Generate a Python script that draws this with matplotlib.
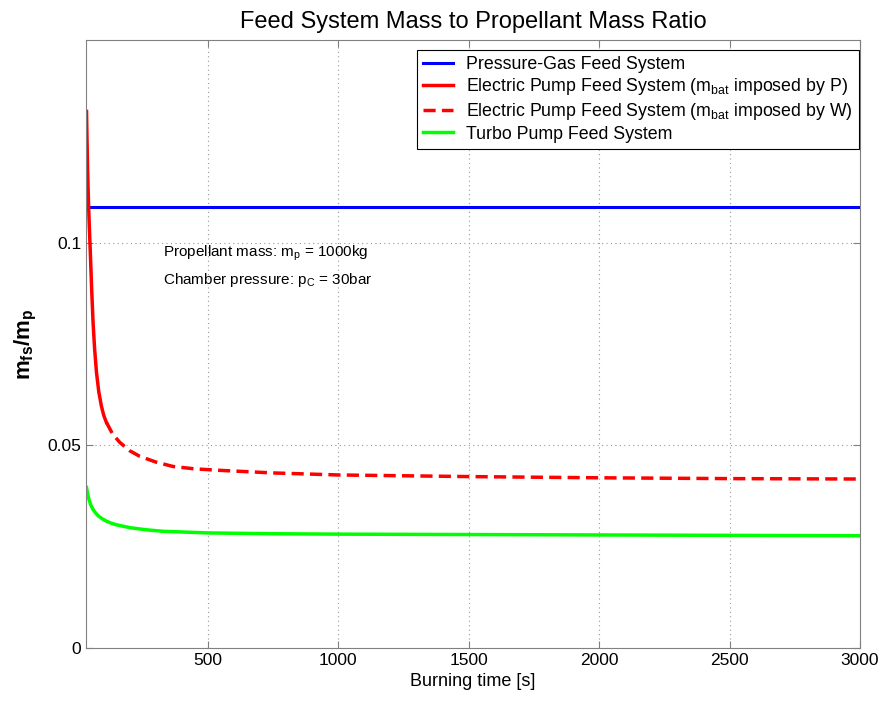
import matplotlib.pyplot as plt

plt.rcParams['font.family'] = ['Liberation Sans', 'DejaVu Sans']
plt.rcParams['mathtext.fontset'] = 'custom'
plt.rcParams['mathtext.rm'] = 'Liberation Sans'
plt.rcParams['mathtext.it'] = 'Liberation Sans'
plt.rcParams['mathtext.bf'] = 'Liberation Sans:bold'

# values
t_gas = [45, 3000]
r_gas = [0.1087, 0.1087]

t_elec_P = [35, 37, 39, 42, 45, 50, 55, 60, 66, 73, 82, 92, 101, 111]
r_elec_P = [0.1324, 0.1250, 0.1183, 0.1110, 0.1052, 0.0968, 0.0880, 0.0804, 0.0738, 0.0681, 0.0632, 0.0597, 0.0574, 0.0557]

t_elec_W = [111, 135, 163, 200, 239, 300, 366, 450, 558, 750, 1000, 1500, 2000, 2500, 3000]
r_elec_W = [0.0557, 0.0528, 0.0507, 0.0487, 0.0473, 0.0459, 0.0448, 0.0442, 0.0438, 0.0432, 0.0427, 0.0423, 0.0420, 0.0418, 0.0417]

t_turbo = [35, 40, 45, 52, 60, 70, 80, 95, 111, 130, 150, 201, 260, 328, 500, 750, 1000, 1500, 2000, 2500, 3000]
r_turbo = [0.0396, 0.0378, 0.0365, 0.0352, 0.0342, 0.0333, 0.0326, 0.0319, 0.0313, 0.0308, 0.0304, 0.0297, 0.0292, 0.0288, 0.0284, 0.0282, 0.0281, 0.0280, 0.0279, 0.0278, 0.0277]

fig = plt.figure(figsize=(8.83, 7.04), dpi=100)
ax = fig.add_axes([0.0974, 0.0795, 0.8766, 0.8636])

ax.plot(t_gas, r_gas, color='#0000ff', lw=2.2, label='Pressure-Gas Feed System')
ax.plot(t_elec_P, r_elec_P, color='#ff0000', lw=2.5,
        label=r'Electric Pump Feed System (m$_{\mathrm{bat}}$ imposed by P)')
ax.plot(t_elec_W, r_elec_W, color='#ff0000', lw=2.5, ls=(0, (3.5, 1.8)),
        label=r'Electric Pump Feed System (m$_{\mathrm{bat}}$ imposed by W)')
ax.plot(t_turbo, r_turbo, color='#00ff00', lw=2.5, label='Turbo Pump Feed System')

ax.set_xlim(33, 3000)
ax.set_ylim(0, 0.15)
ax.set_xticks([500, 1000, 1500, 2000, 2500, 3000])
ax.set_yticks([0, 0.05, 0.1])
ax.set_yticklabels(['0', '0.05', '0.1'])
ax.tick_params(direction='in', top=True, right=True, labelsize=12.5, color='#808080', length=5)
for s in ax.spines.values():
    s.set_color('#808080')
ax.grid(True, ls=(0, (1, 3)), color='#999999', lw=0.8)

ax.set_title('Feed System Mass to Propellant Mass Ratio', fontsize=17, pad=9)
ax.set_xlabel('Burning time [s]', fontsize=13)
ax.set_ylabel(r'$\mathbf{m_{fs}/m_p}$', fontsize=16, fontweight='bold', labelpad=6)

ax.text(327, 0.0973, r'Propellant mass: m$_{\mathrm{p}}$ = 1000kg', fontsize=11, va='center')
ax.text(327, 0.0908, r'Chamber pressure: p$_{\mathrm{C}}$ = 30bar', fontsize=11, va='center')

leg = ax.legend(loc='upper right', bbox_to_anchor=(1.003, 0.99), fontsize=12.8,
                fancybox=False, framealpha=1, edgecolor='black', handlelength=1.7,
                handletextpad=0.7, labelspacing=0.2, borderaxespad=0.2, borderpad=0.35)
leg.get_frame().set_linewidth(0.8)

fig.savefig('out.png', dpi=100)
